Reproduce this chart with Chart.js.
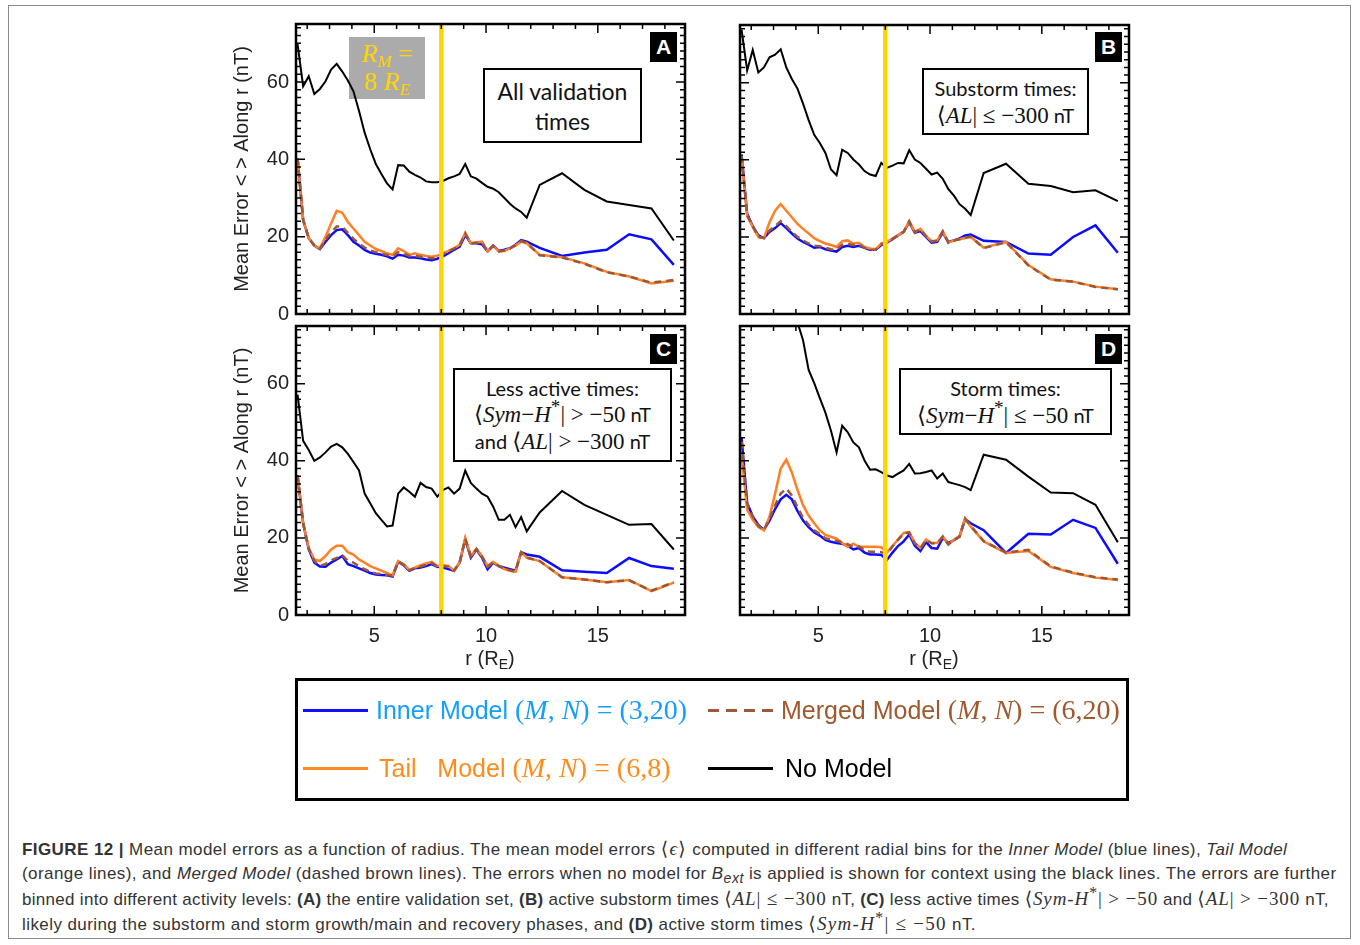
<!DOCTYPE html>
<html>
<head>
<meta charset="utf-8">
<script src="https://cdn.jsdelivr.net/npm/chart.js@4.4.1/dist/chart.umd.min.js"></script>
<style>
  body { margin: 0; background: #fff; font-family: 'Liberation Sans', Arial, sans-serif; }
  #page { position: relative; width: 1360px; height: 945px; overflow: hidden; }
  .frame { position: absolute; left: 8px; top: 5px; width: 1343px; height: 934px; border: 1px solid #8c8c8c; box-sizing: border-box; }
  canvas { position: absolute; z-index: 2; }
  sup, sub { line-height: 0; }
  .note { position: absolute; z-index: 3; background: #fff; border: 2px solid #000; box-sizing: border-box;
          display: flex; align-items: center; justify-content: center; text-align: center;
          font-family: Lato, 'Open Sans', sans-serif; color: #111; }
  .note > div > div { white-space: nowrap; }
  .m { font-family: 'Liberation Serif', 'DejaVu Serif', serif; font-size: 1.15em; }
  .m i { font-style: italic; }
  .tag { position: absolute; z-index: 3; width: 27px; height: 30px; background: #000; color: #fff;
         font-weight: bold; font-size: 21px; display: flex; align-items: center; justify-content: center; }
  .rm { position: absolute; z-index: 1; left: 349px; top: 37px; width: 76px; height: 62px; background: #ababab;
        color: #ffd400; font-family: 'Liberation Serif', serif; font-size: 26px; text-align: center; }
  .rm div { position: absolute; left: 0; width: 76px; height: 28px; line-height: 28px; }
  .rm sub { font-size: 17px; vertical-align: -5px; }
  .xt { position: absolute; z-index: 3; width: 200px; text-align: center; font-size: 20px; color: #222; }
  .xt sub { font-size: 14px; vertical-align: -4px; }
  .legend { position: absolute; z-index: 3; left: 295px; top: 678px; width: 834px; height: 123px; border: 3px solid #000; box-sizing: border-box; }
  .key { position: absolute; height: 3px; width: 65px; }
  .lt { position: absolute; font-size: 25px; white-space: nowrap; line-height: 30px; }
  .lt .m { font-size: 28px; }
  .caption { position: absolute; left: 22px; top: 836px; font-size: 17px; letter-spacing: 0.42px; color: #333; }
  .caption div { height: 25px; line-height: 25px; white-space: nowrap; }
  .caption .m { font-size: 19px; letter-spacing: 1.3px; }
  .caption .tight { letter-spacing: 0.3px; }
  .caption .tight .m { letter-spacing: 0.9px; }
</style>
</head>
<body>
<div id="page">
  <div class="frame"></div>

  <canvas id="chartA" width="480" height="316" style="left:220px;top:14px"></canvas>
  <canvas id="chartB" width="420" height="315" style="left:725px;top:15px"></canvas>
  <canvas id="chartC" width="480" height="374" style="left:220px;top:316px"></canvas>
  <canvas id="chartD" width="420" height="374" style="left:725px;top:316px"></canvas>

  <div class="rm">
    <div style="top:3px"><i>R<sub>M</sub></i> =</div>
    <div style="top:31px">8 <i>R<sub>E</sub></i></div>
  </div>

  <div class="note" style="left:483px;top:68px;width:159px;height:75px;font-size:23px;line-height:30px">
    <div><div>All validation</div><div>times</div></div>
  </div>
  <div class="note" style="left:922px;top:68px;width:167px;height:67px;font-size:20px;line-height:27px">
    <div><div>Substorm times:</div><div><span class="m">⟨<i>AL</i>| ≤ −300</span> nT</div></div>
  </div>
  <div class="note" style="left:453px;top:368px;width:219px;height:94px;font-size:20px;line-height:26px">
    <div><div>Less active times:</div><div><span class="m">⟨<i>Sym</i>−<i>H</i><sup>*</sup>| &gt; −50</span> nT</div><div>and <span class="m">⟨<i>AL</i>| &gt; −300</span> nT</div></div>
  </div>
  <div class="note" style="left:899px;top:368px;width:213px;height:67px;font-size:20px;line-height:27px">
    <div><div>Storm times:</div><div><span class="m">⟨<i>Sym</i>−<i>H</i><sup>*</sup>| ≤ −50</span> nT</div></div>
  </div>

  <div class="tag" style="left:650px;top:32px">A</div>
  <div class="tag" style="left:1095px;top:32px">B</div>
  <div class="tag" style="left:650px;top:334px">C</div>
  <div class="tag" style="left:1095px;top:334px">D</div>

  <div class="xt" style="left:390px;top:647px">r (R<sub>E</sub>)</div>
  <div class="xt" style="left:834px;top:647px">r (R<sub>E</sub>)</div>

  <div class="legend">
    <div class="key" style="left:5px;top:28px;background:#1010ff"></div>
    <div class="lt" style="left:78px;top:14px;color:#159dff">Inner Model <span class="m">(<i>M</i>, <i>N</i>) = (3,20)</span></div>
    <div class="key" style="left:410px;top:28px;background:repeating-linear-gradient(90deg,#9c5a36 0 11px,transparent 11px 18px)"></div>
    <div class="lt" style="left:483px;top:14px;color:#a0582c">Merged Model <span class="m">(<i>M</i>, <i>N</i>) = (6,20)</span></div>
    <div class="key" style="left:5px;top:86px;background:#ff8a25"></div>
    <div class="lt" style="left:81px;top:72px;color:#ff8c1a">Tail &nbsp; Model <span class="m">(<i>M</i>, <i>N</i>) = (6,8)</span></div>
    <div class="key" style="left:410px;top:86px;background:#000"></div>
    <div class="lt" style="left:487px;top:72px;color:#000">No Model</div>
  </div>

  <div class="caption">
    <div><b>FIGURE 12 |</b> Mean model errors as a function of radius. The mean model errors <span class="m">⟨<i>ϵ</i>⟩</span> computed in different radial bins for the <i>Inner Model</i> (blue lines), <i>Tail Model</i></div>
    <div>(orange lines), and <i>Merged Model</i> (dashed brown lines). The errors when no model for <i>B<sub>ext</sub></i> is applied is shown for context using the black lines. The errors are further</div>
    <div class="tight">binned into different activity levels: <b>(A)</b> the entire validation set, <b>(B)</b> active substorm times <span class="m">⟨<i>AL</i>| ≤ −300</span> nT, <b>(C)</b> less active times <span class="m">⟨<i>Sym-H</i><sup>*</sup>| &gt; −50</span> and <span class="m">⟨<i>AL</i>| &gt; −300</span> nT,</div>
    <div>likely during the substorm and storm growth/main and recovery phases, and <b>(D)</b> active storm times <span class="m">⟨<i>Sym-H</i><sup>*</sup>| ≤ −50</span> nT.</div>
  </div>
</div>

<script>
// radial bin centres (R_E): fine bins inside 12 R_E, coarse bins beyond
const R = [1.57, 1.82, 2.07, 2.32, 2.57, 2.82, 3.07, 3.32, 3.57, 3.82,
           4.07, 4.32, 4.57, 4.82, 5.07, 5.32, 5.57, 5.82, 6.07, 6.32,
           6.57, 6.82, 7.07, 7.32, 7.57, 7.82, 8.07, 8.32, 8.57, 8.82,
           9.07, 9.32, 9.57, 9.82, 10.07, 10.32, 10.57, 10.82, 11.07, 11.32,
           11.57, 11.82, 12.4, 13.4, 14.4, 15.4, 16.4, 17.4, 18.4];

const xTickValues = [5, 10, 15];
const yTickValues = [0, 20, 40, 60];
const mergeRadius = 8;

// (A) all validation times
const innerA = [40.3, 24.3, 19.6, 17.7, 16.8, 18.7, 20.4, 21.7, 21.9, 20.4,
                18.7, 17.7, 16.6, 15.9, 15.6, 15.3, 14.9, 14.3, 15.3, 15.1,
                14.6, 14.6, 14.4, 14.1, 13.9, 14.3, 14.9, 15.7, 16.6, 17.4,
                20.4, 18.3, 18.3, 18.0, 16.2, 17.7, 16.3, 16.6, 17.0, 17.9,
                19.1, 18.7, 17.1, 15.0, 15.9, 16.6, 20.6, 19.3, 12.7];
const tailA = [40.1, 24.3, 19.7, 17.7, 17.0, 20.0, 23.4, 26.7, 26.2, 23.8,
               22.1, 20.4, 18.7, 17.7, 16.8, 16.3, 15.7, 15.3, 17.0, 16.3,
               15.3, 15.7, 15.3, 15.0, 14.8, 15.1, 15.7, 16.3, 17.0, 17.9,
               21.0, 18.3, 18.5, 18.7, 16.2, 17.6, 16.2, 16.3, 17.0, 17.7,
               18.7, 18.3, 15.3, 14.7, 13.1, 10.9, 9.7, 7.9, 8.6];
const mergedA = [40.3, 24.3, 19.6, 17.7, 16.9, 19.2, 21.2, 22.6, 22.6, 21.0,
                 19.5, 18.2, 17.2, 16.4, 16.0, 15.6, 15.3, 14.8, 16.0, 15.6,
                 15.0, 15.0, 14.8, 14.6, 14.4, 14.6, 15.5, 16.2, 16.9, 17.8,
                 20.8, 18.3, 18.4, 18.5, 16.2, 17.6, 16.2, 16.4, 17.0, 17.8,
                 18.9, 18.4, 15.2, 14.6, 13.0, 10.8, 9.7, 8.1, 8.8];
const noModelA = [69.8, 58.9, 61.5, 56.9, 58.2, 60.2, 63.2, 64.7, 62.7, 60.4,
                  57.6, 52.5, 46.9, 42.6, 38.8, 36.2, 33.8, 32.2, 38.5, 38.4,
                  36.8, 36.0, 35.3, 34.3, 34.1, 34.1, 34.4, 35.1, 35.6, 36.2,
                  38.8, 35.6, 35.0, 33.9, 32.9, 32.4, 31.5, 30.0, 28.5, 27.3,
                  26.4, 24.9, 33.4, 36.4, 32.1, 29.1, 28.2, 27.3, 19.0];

// (B) substorm times
const innerB = [41.4, 26.0, 22.8, 20.4, 19.7, 21.3, 22.3, 23.6, 22.3, 20.9,
                19.6, 18.7, 18.0, 17.2, 17.4, 16.8, 16.5, 16.2, 17.4, 17.7,
                17.4, 17.7, 17.2, 16.7, 16.7, 17.9, 18.5, 19.4, 20.4, 21.3,
                23.8, 21.1, 21.5, 20.0, 18.5, 18.7, 21.1, 18.7, 19.1, 19.6,
                20.4, 20.6, 19.0, 18.7, 15.7, 15.4, 20.0, 23.0, 15.9];
const tailB = [41.0, 25.4, 22.6, 20.0, 19.7, 23.8, 26.8, 28.5, 26.8, 25.1,
               23.4, 22.1, 20.9, 19.7, 18.9, 18.3, 17.9, 17.4, 18.9, 19.1,
               18.3, 18.5, 17.4, 17.0, 16.8, 18.3, 18.7, 19.6, 20.4, 21.3,
               24.1, 21.3, 22.1, 20.3, 18.9, 19.1, 21.5, 18.5, 19.1, 19.4,
               19.7, 20.0, 17.2, 18.7, 12.7, 9.0, 8.4, 7.1, 6.4];
const mergedB = [41.0, 25.6, 22.8, 20.0, 19.7, 21.7, 22.8, 24.1, 22.8, 21.3,
                 20.0, 19.1, 18.3, 17.7, 17.6, 17.2, 16.8, 16.7, 18.0, 18.2,
                 17.9, 18.0, 17.2, 16.6, 16.7, 18.1, 18.6, 19.5, 20.4, 21.3,
                 24.0, 21.2, 22.0, 20.2, 18.8, 19.0, 21.4, 18.5, 19.1, 19.4,
                 19.8, 20.1, 17.1, 18.6, 12.6, 8.9, 8.4, 7.0, 6.4];
const noModelB = [73.8, 63.2, 68.5, 62.7, 64.0, 66.6, 67.3, 68.7, 64.0, 61.0,
                  58.5, 54.6, 50.3, 46.5, 44.4, 41.8, 37.5, 36.0, 42.6, 41.8,
                  40.1, 38.8, 37.1, 36.2, 35.8, 39.2, 37.9, 38.5, 39.2, 39.1,
                  42.5, 40.1, 39.2, 37.7, 36.2, 36.7, 35.1, 32.4, 30.7, 28.5,
                  27.3, 25.7, 36.6, 39.0, 33.8, 33.2, 31.6, 32.1, 29.3];

// (C) less active times
const innerC = [36.2, 23.8, 17.0, 13.6, 12.6, 12.5, 13.6, 14.4, 15.3, 13.2,
                12.7, 12.1, 11.5, 10.9, 10.5, 10.4, 10.3, 10.0, 13.8, 12.9,
                11.5, 12.1, 12.3, 12.7, 13.2, 12.5, 12.3, 11.9, 11.5, 13.6,
                19.6, 14.9, 17.0, 14.9, 11.9, 13.6, 12.7, 12.3, 11.9, 11.5,
                16.3, 15.7, 15.1, 11.6, 11.2, 10.9, 14.8, 12.7, 12.0];
const tailC = [36.2, 23.8, 17.4, 14.4, 14.0, 15.3, 17.0, 18.0, 18.0, 16.3,
               15.7, 14.4, 13.6, 12.7, 12.1, 11.5, 10.9, 10.3, 14.0, 13.2,
               11.7, 12.3, 12.9, 13.4, 13.8, 12.7, 12.9, 12.7, 11.5, 13.6,
               20.0, 15.3, 17.2, 15.3, 12.7, 13.8, 12.7, 11.9, 11.5, 11.2,
               16.3, 14.9, 14.0, 9.8, 9.2, 8.5, 9.1, 6.2, 8.4];
const mergedC = [36.2, 23.8, 17.2, 14.0, 12.8, 13.2, 14.2, 14.8, 15.5, 14.0,
                 13.6, 12.6, 11.9, 11.2, 10.8, 10.6, 10.4, 10.2, 13.9, 13.0,
                 11.6, 12.2, 12.6, 13.0, 13.5, 12.6, 12.8, 12.5, 11.5, 13.6,
                 19.8, 15.2, 17.1, 15.2, 12.5, 13.7, 12.7, 12.0, 11.6, 11.3,
                 16.2, 14.9, 14.0, 9.8, 9.2, 8.5, 9.0, 6.3, 8.5];
const noModelC = [57.2, 45.2, 42.8, 40.0, 40.9, 42.2, 43.7, 44.4, 43.5, 41.8,
                  39.7, 37.5, 31.5, 29.0, 26.4, 24.7, 23.0, 23.2, 31.5, 33.1,
                  32.0, 30.7, 34.3, 33.2, 32.8, 30.7, 32.4, 33.1, 31.5, 32.8,
                  37.5, 34.3, 32.8, 31.5, 30.7, 28.1, 24.7, 24.7, 26.0, 22.8,
                  25.4, 21.7, 26.6, 32.2, 28.6, 26.0, 23.4, 23.6, 17.0];

// (D) storm times -- no-model errors run off the top of the axis inside ~4 R_E
const innerD = [46.1, 29.0, 25.6, 23.4, 22.1, 24.5, 27.5, 30.0, 31.2, 30.0,
                27.0, 24.5, 22.8, 21.5, 20.6, 19.5, 19.0, 18.7, 18.5, 18.0,
                17.0, 17.4, 16.2, 15.7, 15.7, 15.6, 14.3, 16.2, 17.9, 19.1,
                20.9, 18.0, 16.6, 18.9, 17.4, 17.2, 20.0, 18.7, 19.4, 20.4,
                24.9, 23.8, 22.0, 16.1, 21.1, 20.9, 24.7, 22.6, 13.3];
const tailD = [41.4, 27.3, 24.7, 22.8, 22.0, 25.5, 31.5, 38.0, 40.3, 37.0,
               32.5, 28.5, 25.8, 23.8, 22.0, 20.8, 20.3, 19.8, 18.7, 17.7,
               18.5, 17.7, 17.7, 17.7, 17.7, 17.6, 16.2, 17.9, 19.6, 21.3,
               21.5, 18.7, 17.4, 19.6, 18.7, 18.7, 20.4, 18.3, 19.6, 20.4,
               25.1, 23.0, 19.1, 16.1, 16.6, 12.5, 10.9, 9.7, 9.1];
const mergedD = [45.0, 29.0, 25.5, 23.2, 22.0, 25.0, 28.5, 31.5, 32.8, 31.0,
                 28.0, 25.2, 23.4, 22.0, 21.0, 19.9, 19.5, 19.2, 18.9, 18.4,
                 17.6, 17.8, 16.8, 16.4, 16.4, 16.3, 15.8, 17.8, 19.5, 21.2,
                 21.4, 18.6, 17.3, 19.5, 18.6, 18.6, 20.3, 18.3, 19.5, 20.3,
                 25.0, 23.1, 19.2, 16.2, 16.9, 12.6, 11.0, 9.8, 9.2];
const noModelD = [110, 102, 104, 100, 98, 96, 95, 92, 88, 82,
                  76.0, 71.3, 63.6, 60.2, 56.3, 52.5, 47.8, 42.2, 49.1, 47.4,
                  44.8, 43.5, 40.1, 37.7, 37.8, 37.1, 36.2, 35.8, 36.7, 37.5,
                  39.2, 36.7, 36.8, 37.1, 37.5, 35.4, 36.7, 34.5, 34.1, 33.7,
                  33.2, 32.4, 41.6, 40.3, 35.9, 31.8, 31.6, 28.6, 18.9];

Chart.defaults.font.family = "'Liberation Sans', Arial, sans-serif";
Chart.defaults.color = '#222';
Chart.defaults.animation = false;

function series(vals) {
    return R.map((r, i) => ({ x: r, y: vals[i] }));
}

// first dataset is drawn last, so the dashed merged line sits on top
function makeDatasets(inner, tail, merged, none) {
    return [
        { label: 'Merged Model', data: series(merged), borderColor: '#9a5837', borderWidth: 2.5, borderDash: [7, 5] },
        { label: 'Tail Model', data: series(tail), borderColor: '#ff7f27', borderWidth: 2.5 },
        { label: 'Inner Model', data: series(inner), borderColor: '#0c0cff', borderWidth: 2.5 },
        { label: 'No Model', data: series(none), borderColor: '#000000', borderWidth: 2 }
    ];
}

// yellow R_M marker, then the box frame with inward ticks on all four sides
const panelDecor = {
    id: 'panelDecor',
    afterDatasetsDraw(chart) {
        const { ctx, chartArea: a, scales: { x } } = chart;
        const px = x.getPixelForValue(mergeRadius);
        ctx.save();
        ctx.strokeStyle = '#ffd500';
        ctx.lineWidth = 4.5;
        ctx.beginPath();
        ctx.moveTo(px, a.top);
        ctx.lineTo(px, a.bottom);
        ctx.stroke();
        ctx.restore();
    },
    afterDraw(chart) {
        const { ctx, chartArea: a, scales: { x, y } } = chart;
        ctx.save();
        ctx.strokeStyle = '#000';
        ctx.lineWidth = 1.5;
        ctx.beginPath();
        for (let v = Math.ceil(x.min); v <= x.max; v++) {
            const p = x.getPixelForValue(v);
            const len = v % 5 === 0 ? 9 : 5;
            ctx.moveTo(p, a.bottom); ctx.lineTo(p, a.bottom - len);
            ctx.moveTo(p, a.top); ctx.lineTo(p, a.top + len);
        }
        for (let v = 0; v <= y.max; v += 2) {
            const p = y.getPixelForValue(v);
            const len = v % 20 === 0 ? 9 : 5;
            ctx.moveTo(a.left, p); ctx.lineTo(a.left + len, p);
            ctx.moveTo(a.right, p); ctx.lineTo(a.right - len, p);
        }
        ctx.stroke();
        ctx.lineWidth = 2.5;
        ctx.strokeRect(a.left, a.top, a.right - a.left, a.bottom - a.top);
        ctx.restore();
    }
};

function makeChart(id, sets, showY, showX, padding) {
    return new Chart(document.getElementById(id), {
        type: 'line',
        data: { datasets: sets },
        options: {
            responsive: false,
            layout: { padding: padding },
            elements: { point: { radius: 0 }, line: { tension: 0 } },
            plugins: { legend: { display: false }, tooltip: { enabled: false } },
            scales: {
                x: {
                    type: 'linear', min: 1.5, max: 18.9,
                    grid: { display: false, drawTicks: false },
                    border: { display: false },
                    ticks: { display: showX, padding: 9, font: { size: 20 } },
                    afterBuildTicks: s => { s.ticks = xTickValues.map(v => ({ value: v })); },
                    afterFit: s => { s.height = showX ? 75 : 0; s.paddingLeft = 0; s.paddingRight = 0; }
                },
                y: {
                    min: 0, max: 75,
                    grid: { display: false, drawTicks: false },
                    border: { display: false },
                    ticks: { display: showY, padding: 7, font: { size: 20 } },
                    title: { display: showY, text: 'Mean Error < > Along r (nT)', font: { size: 20 }, padding: { top: 10, bottom: 0 } },
                    afterBuildTicks: s => { s.ticks = yTickValues.map(v => ({ value: v })); },
                    afterFit: s => { s.width = showY ? 76 : 0; s.paddingTop = 0; s.paddingBottom = 0; }
                }
            }
        },
        plugins: [panelDecor]
    });
}

makeChart('chartA', makeDatasets(innerA, tailA, mergedA, noModelA), true, false, { left: 0, right: 15, top: 10, bottom: 16 });
makeChart('chartB', makeDatasets(innerB, tailB, mergedB, noModelB), false, false, { left: 15, right: 16, top: 10, bottom: 16 });
makeChart('chartC', makeDatasets(innerC, tailC, mergedC, noModelC), true, true, { left: 0, right: 15, top: 10, bottom: 0 });
makeChart('chartD', makeDatasets(innerD, tailD, mergedD, noModelD), false, true, { left: 15, right: 16, top: 10, bottom: 0 });
</script>
</body>
</html>
